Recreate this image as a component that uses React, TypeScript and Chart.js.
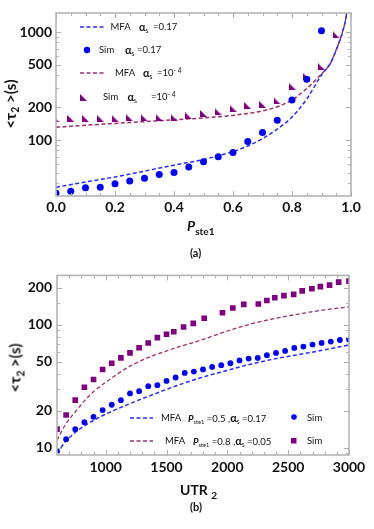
import React, { useEffect, useRef } from 'react';
import { Chart, registerables } from 'chart.js';
Chart.register(...registerables);

// ---------- (a) data ----------
const pSimBlue = [0, 0.05, 0.1, 0.15, 0.2, 0.25, 0.3, 0.35, 0.4, 0.45, 0.5, 0.55, 0.6, 0.65, 0.7, 0.75, 0.8, 0.85, 0.9];
const simBlue = [32.1, 33.5, 36.2, 36.5, 39.3, 41.8, 44.2, 47.9, 50.0, 56.2, 62.8, 70.0, 76.5, 96.8, 117.3, 152.7, 235, 366, 1025];
const pSimPurple = [0, 0.05, 0.1, 0.15, 0.2, 0.25, 0.3, 0.35, 0.4, 0.45, 0.5, 0.55, 0.6, 0.65, 0.7, 0.75, 0.8, 0.85, 0.9, 0.95];
const simPurple = [157, 158, 158, 159, 159, 160, 160, 161, 162, 167, 176, 183, 197, 208, 214, 230, 316, 385, 477, 940];
const pMfa = [0, 0.1, 0.2, 0.3, 0.4, 0.5, 0.55, 0.6, 0.65, 0.7, 0.75, 0.8, 0.85, 0.9, 0.93, 0.95, 0.97, 0.985, 0.995];
const mfaBlue = [36.5, 40.8, 45.5, 51.5, 58.5, 66, 71.5, 78, 88, 103, 126, 163, 240, 400, 513, 681, 972, 1490, 3000];
const mfaPurple = [131, 137, 142.5, 148, 154, 160, 164, 169, 176, 186, 203, 235, 300, 410, 513, 690, 980, 1490, 3000];
const xTicksA = [0, 0.2, 0.4, 0.6, 0.8, 1.0];
const yTicksA = [100, 200, 500, 1000];

// ---------- (b) data ----------
const utrSim = [600, 675, 750, 825, 900, 975, 1050, 1125, 1200, 1275, 1350, 1425, 1500, 1575, 1650, 1725, 1800, 1875, 1950, 2025, 2100, 2175, 2250, 2325, 2400, 2475, 2550, 2625, 2700, 2775, 2850, 2925, 3000];
const simP05 = [9.3, 11.7, 14.1, 16.1, 17.8, 20.2, 22.3, 24.3, 27.6, 28.8, 31.6, 32.2, 34.9, 37.2, 40.5, 41.6, 43.3, 45.4, 46.9, 48.6, 51.2, 53.1, 53.7, 56.5, 59.0, 61.2, 64.8, 66.5, 69.0, 71.1, 73.0, 75.2, 75.8];
const utrSimP08 = [600, 675, 750, 825, 900, 975, 1050, 1125, 1200, 1275, 1350, 1425, 1500, 1560, 1640, 1720, 1810, 1960, 2045, 2135, 2255, 2325, 2390, 2465, 2545, 2615, 2695, 2765, 2840, 2915, 3000];
const simP08 = [14.1, 18.4, 24.3, 31.0, 35.8, 43.2, 48.6, 53.7, 59.0, 65.0, 71.1, 78.7, 83.7, 87.7, 96, 102.8, 113, 125.3, 137, 146.8, 147.6, 157.7, 166, 172.7, 177, 188.9, 196.8, 204.5, 210.7, 222.4, 227];
const utrMfa = [600, 675, 750, 825, 900, 1000, 1200, 1400, 1600, 1800, 2000, 2200, 2400, 2600, 2800, 3000];
const mfaP05 = [9.0, 11.3, 13.3, 15.0, 16.6, 18.7, 22.8, 27.3, 32.3, 37.5, 42.5, 48, 53, 57.5, 62.5, 68.5];
const mfaP08 = [11.5, 15.7, 19.5, 24, 28.5, 34, 46, 56.5, 66, 76, 89, 102, 113, 123, 132.5, 140];
const xTicksB = [1000, 1500, 2000, 2500, 3000];
const yTicksB = [10, 20, 50, 100, 200];

// tick marks (frame)
const xMinorA = [0.05, 0.1, 0.15, 0.25, 0.3, 0.35, 0.45, 0.5, 0.55, 0.65, 0.7, 0.75, 0.85, 0.9, 0.95];
const yMinorA = [40, 50, 60, 70, 80, 90, 300, 400, 600, 700, 800, 900];
const xMinorB = [600, 700, 800, 900, 1100, 1200, 1300, 1400, 1600, 1700, 1800, 1900, 2100, 2200, 2300, 2400, 2600, 2700, 2800, 2900];
const yMinorB = [9, 30, 40, 60, 70, 80, 90, 150];

const BLUE = '#0000ff';
const BLUE_LINE = '#2b2bff';
const PURPLE = '#800080';
const PURPLE_LINE = '#9c2f6c';
const FRAME = '#b0b0b0';
const FONT = 'Lato, "Open Sans", sans-serif';

const pts = (xs: number[], ys: number[]) => xs.map((x, i) => ({ x, y: ys[i] }));

function makeTri(color: string, size: number) {
  const c = document.createElement('canvas');
  c.width = size;
  c.height = size;
  const g = c.getContext('2d')!;
  g.fillStyle = color;
  g.beginPath();
  g.moveTo(0, 0);
  g.lineTo(0, size);
  g.lineTo(size, size);
  g.closePath();
  g.fill();
  return c;
}

const framePlugin = {
  id: 'frameTicks',
  afterDatasetsDraw(chart: any, _a: any, opts: any) {
    const { ctx, chartArea } = chart;
    const { left, right, top, bottom } = chartArea;
    const sx = chart.scales.x;
    const sy = chart.scales.y;
    ctx.save();
    ctx.strokeStyle = FRAME;
    ctx.lineWidth = 1;
    const tick = (vals: number[], len: number, horiz: boolean) => {
      vals.forEach((v) => {
        if (horiz) {
          const p = Math.round(sx.getPixelForValue(v)) + 0.5;
          ctx.beginPath();
          ctx.moveTo(p, bottom); ctx.lineTo(p, bottom - len);
          ctx.moveTo(p, top); ctx.lineTo(p, top + len);
          ctx.stroke();
        } else {
          const p = Math.round(sy.getPixelForValue(v)) + 0.5;
          ctx.beginPath();
          ctx.moveTo(left, p); ctx.lineTo(left + len, p);
          ctx.moveTo(right, p); ctx.lineTo(right - len, p);
          ctx.stroke();
        }
      });
    };
    tick(opts.xMajor, 5, true);
    tick(opts.xMinor, 3, true);
    tick(opts.yMajor, 5, false);
    tick(opts.yMinor, 3, false);
    ctx.lineWidth = 1.5;
    ctx.strokeRect(left, top, right - left, bottom - top);
    ctx.restore();
  },
};

const tickFont = { family: FONT, size: 14, weight: 'bold' as const };

function ChartA() {
  const ref = useRef<HTMLCanvasElement>(null);
  useEffect(() => {
    const tri = makeTri(PURPLE, 7);
    const chart = new Chart(ref.current!, {
      type: 'scatter',
      data: {
        datasets: [
          { data: pts(pSimBlue, simBlue), pointStyle: 'circle', pointRadius: 3.5, backgroundColor: BLUE, borderWidth: 0 } as any,
          { data: pts(pSimPurple, simPurple), pointStyle: tri, pointRadius: 4, backgroundColor: PURPLE, borderWidth: 0 } as any,
          { type: 'line', data: pts(pMfa, mfaBlue), borderColor: BLUE_LINE, borderWidth: 1.5, borderDash: [4, 2.5], pointRadius: 0, cubicInterpolationMode: 'monotone', showLine: true, fill: false } as any,
          { type: 'line', data: pts(pMfa, mfaPurple), borderColor: PURPLE_LINE, borderWidth: 1.5, borderDash: [4, 2.5], pointRadius: 0, cubicInterpolationMode: 'monotone', showLine: true, fill: false } as any,
        ],
      },
      options: {
        responsive: false,
        animation: false,
        layout: { padding: { top: 13, right: 23, left: 0, bottom: 0 } },
        plugins: { legend: { display: false }, tooltip: { enabled: false }, frameTicks: { xMajor: xTicksA, xMinor: xMinorA, yMajor: yTicksA, yMinor: yMinorA } } as any,
        scales: {
          x: {
            type: 'linear', min: 0, max: 1,
            grid: { display: false, drawTicks: false }, border: { display: false },
            ticks: { font: tickFont, color: '#111', padding: 3, autoSkip: false, maxRotation: 0, callback: (v: any) => Number(v).toFixed(1) },
            afterBuildTicks: (s: any) => { s.ticks = xTicksA.map((value) => ({ value })); },
            afterFit: (s: any) => { s.height = 66; },
          },
          y: {
            type: 'logarithmic', min: 30.3, max: 1500,
            grid: { display: false, drawTicks: false }, border: { display: false },
            ticks: { font: tickFont, color: '#111', padding: 4, autoSkip: false, callback: (v: any) => String(v) },
            afterBuildTicks: (s: any) => { s.ticks = yTicksA.map((value) => ({ value })); },
            afterFit: (s: any) => { s.width = 56; },
          },
        } as any,
      },
      plugins: [framePlugin],
    });
    return () => chart.destroy();
  }, []);
  return <canvas ref={ref} width={374} height={262} style={{ position: 'absolute', left: 0, top: 0, width: 374, height: 262 }} />;
}

function ChartB() {
  const ref = useRef<HTMLCanvasElement>(null);
  useEffect(() => {
    const chart = new Chart(ref.current!, {
      type: 'scatter',
      data: {
        datasets: [
          { data: pts(utrSim, simP05), pointStyle: 'circle', pointRadius: 2.9, backgroundColor: BLUE, borderWidth: 0 } as any,
          { data: pts(utrSimP08, simP08), pointStyle: 'rect', pointRadius: 4, backgroundColor: PURPLE, borderWidth: 0 } as any,
          { type: 'line', data: pts(utrMfa, mfaP05), borderColor: BLUE_LINE, borderWidth: 1.5, borderDash: [4, 2.5], pointRadius: 0, cubicInterpolationMode: 'monotone', showLine: true, fill: false } as any,
          { type: 'line', data: pts(utrMfa, mfaP08), borderColor: PURPLE_LINE, borderWidth: 1.3, borderDash: [4, 2.5], pointRadius: 0, cubicInterpolationMode: 'monotone', showLine: true, fill: false } as any,
        ],
      },
      options: {
        responsive: false,
        animation: false,
        layout: { padding: { top: 13, right: 25, left: 0, bottom: 0 } },
        plugins: { legend: { display: false }, tooltip: { enabled: false }, frameTicks: { xMajor: xTicksB, xMinor: xMinorB, yMajor: yTicksB, yMinor: yMinorB } } as any,
        scales: {
          x: {
            type: 'linear', min: 600, max: 3000,
            grid: { display: false, drawTicks: false }, border: { display: false },
            ticks: { font: tickFont, color: '#111', padding: 4, autoSkip: false, maxRotation: 0, callback: (v: any) => String(v) },
            afterBuildTicks: (s: any) => { s.ticks = xTicksB.map((value) => ({ value })); },
            afterFit: (s: any) => { s.height = 74; },
          },
          y: {
            type: 'logarithmic', min: 8.69, max: 252.6,
            grid: { display: false, drawTicks: false }, border: { display: false },
            ticks: { font: tickFont, color: '#111', padding: 5, autoSkip: false, callback: (v: any) => String(v) },
            afterBuildTicks: (s: any) => { s.ticks = yTicksB.map((value) => ({ value })); },
            afterFit: (s: any) => { s.width = 57; },
          },
        } as any,
      },
      plugins: [framePlugin],
    });
    return () => chart.destroy();
  }, []);
  return <canvas ref={ref} width={374} height={267} style={{ position: 'absolute', left: 0, top: 262, width: 374, height: 267 }} />;
}

const T = ({ x, y, children, size = 9.5, weight = 'normal', style = {} }: any) => (
  <span style={{ position: 'absolute', left: x, top: y, transform: 'translateY(-50%)', fontFamily: FONT, fontSize: size, fontWeight: weight, lineHeight: 1, whiteSpace: 'nowrap', color: '#111', ...style }}>{children}</span>
);
const Sub = ({ children, size = '0.7em' }: any) => (
  <span style={{ fontSize: size, verticalAlign: '-0.35em', lineHeight: 0 }}>{children}</span>
);
const Sup = ({ children, size = '0.7em' }: any) => (
  <span style={{ fontSize: size, verticalAlign: '0.5em', lineHeight: 0 }}>{children}</span>
);
const Dash = ({ x, y, color, w = 25 }: any) => (
  <svg width={w} height={4} style={{ position: 'absolute', left: x, top: y - 2 }}>
    <line x1={0} y1={2} x2={w} y2={2} stroke={color} strokeWidth={1.5} strokeDasharray="4 2.5" />
  </svg>
);
const Alpha = () => (
  <span><b style={{ fontSize: '1.15em' }}>α</b><Sub>s</Sub></span>
);
const PSte = () => (
  <span><i style={{ fontWeight: 'bold' }}>P</i><Sub size="0.6em">ste1</Sub></span>
);

export default function App() {
  return (
    <div style={{ position: 'absolute', left: 0, top: 0, width: 374, height: 529, background: '#fff', overflow: 'hidden' }}>
      <ChartA />
      <ChartB />

      {/* (a) axis titles */}
      <span style={{ position: 'absolute', left: 10, top: 104, transform: 'translate(-50%,-50%) rotate(-90deg)', fontFamily: FONT, fontWeight: 'bold', fontSize: 15, whiteSpace: 'nowrap', lineHeight: 1, color: '#111' }}>
        &lt;τ<Sub>2</Sub> &gt;(s)
      </span>
      <T x={187} y={226} size={14} weight="bold"><i>P</i><Sub size="0.72em">ste1</Sub></T>
      <T x={190} y={252} size={11} weight="bold">(a)</T>

      {/* (a) legend */}
      <Dash x={80} y={27} color={BLUE_LINE} />
      <T x={110.5} y={27}>MFA</T>
      <T x={139} y={27}><Alpha /></T>
      <T x={153} y={27}>=0.17</T>

      <svg width={8} height={8} style={{ position: 'absolute', left: 82.5, top: 46 }}><circle cx={4} cy={4} r={3.2} fill={BLUE} /></svg>
      <T x={99} y={50}>Sim</T>
      <T x={125} y={50}><Alpha /></T>
      <T x={137} y={50}>=0.17</T>

      <Dash x={80} y={73} color={PURPLE_LINE} />
      <T x={115} y={73}>MFA</T>
      <T x={143} y={73}><Alpha /></T>
      <T x={157} y={73}>=10<Sup>- 4</Sup></T>

      <svg width={7} height={7} style={{ position: 'absolute', left: 80, top: 94 }}><polygon points="0,0 0,7 7,7" fill={PURPLE} /></svg>
      <T x={103} y={97}>Sim</T>
      <T x={127.5} y={97}><Alpha /></T>
      <T x={151} y={97}>=10<Sup>- 4</Sup></T>

      {/* (b) axis titles */}
      <span style={{ position: 'absolute', left: 15, top: 368, transform: 'translate(-50%,-50%) rotate(-90deg)', fontFamily: FONT, fontWeight: 'bold', fontSize: 15, whiteSpace: 'nowrap', lineHeight: 1, color: '#111' }}>
        &lt;τ<Sub>2</Sub> &gt;(s)
      </span>
      <T x={180} y={490} size={14} weight="bold">UTR <Sub size="0.72em">2</Sub></T>
      <T x={190} y={506} size={11} weight="bold">(b)</T>

      {/* (b) legend */}
      <Dash x={130} y={418} color={BLUE_LINE} w={23} />
      <T x={161} y={418}>MFA</T>
      <T x={188} y={418}><PSte /> =0.5 ,<Alpha /> =0.17</T>
      <svg width={8} height={8} style={{ position: 'absolute', left: 289.5, top: 413 }}><circle cx={4} cy={4} r={2.8} fill={BLUE} /></svg>
      <T x={307} y={418}>Sim</T>

      <Dash x={130} y={441} color={PURPLE_LINE} w={23} />
      <T x={165} y={441}>MFA</T>
      <T x={193} y={441}><PSte /> =0.8 ,<Alpha /> =0.05</T>
      <svg width={8} height={8} style={{ position: 'absolute', left: 289.5, top: 437 }}><rect x={1} y={1} width={5.5} height={5.5} fill={PURPLE} /></svg>
      <T x={307} y={441}>Sim</T>
    </div>
  );
}
